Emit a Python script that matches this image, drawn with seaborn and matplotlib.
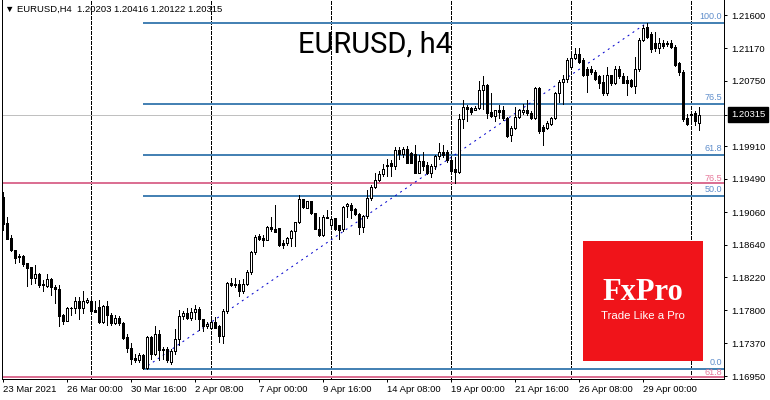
import numpy as np
import pandas as pd
import seaborn as sns
import matplotlib.pyplot as plt
from matplotlib.patches import Rectangle

# EURUSD H4 candles, bar 0 = 23 Mar 2021 08:00 ... bar 174 = 3 May 2021 08:00
opens = [
    1.1926, 1.1892, 1.1873, 1.1857, 1.1849, 1.1849, 1.1841, 1.1835, 1.1821, 1.1826,
    1.1813, 1.1811, 1.1820, 1.1810, 1.1807, 1.1774, 1.1766, 1.1782, 1.1782, 1.1792,
    1.1782, 1.1790, 1.1792, 1.1780, 1.1784, 1.1765, 1.1785, 1.1774, 1.1763, 1.1770,
    1.1763, 1.1745, 1.1731, 1.1718, 1.1716, 1.1722, 1.1705, 1.1745, 1.1724, 1.1749,
    1.1730, 1.1730, 1.1713, 1.1727, 1.1743, 1.1772, 1.1776, 1.1770, 1.1778, 1.1781,
    1.1768, 1.1759, 1.1757, 1.1765, 1.1759, 1.1746, 1.1779, 1.1815, 1.1814, 1.1813,
    1.1805, 1.1813, 1.1829, 1.1855, 1.1875, 1.1873, 1.1870, 1.1887, 1.1884, 1.1886,
    1.1866, 1.1866, 1.1873, 1.1882, 1.1893, 1.1923, 1.1912, 1.1920, 1.1905, 1.1885,
    1.1877, 1.1899, 1.1890, 1.1898, 1.1889, 1.1884, 1.1914, 1.1915, 1.1910, 1.1904,
    1.1887, 1.1901, 1.1924, 1.1938, 1.1947, 1.1955, 1.1965, 1.1969, 1.1965, 1.1986,
    1.1981, 1.1987, 1.1982, 1.1981, 1.1957, 1.1972, 1.1967, 1.1957, 1.1965, 1.1978,
    1.1984, 1.1984, 1.1973, 1.1962, 1.1958, 1.2026, 1.2041, 1.2040, 1.2038, 1.2040,
    1.2063, 1.2070, 1.2035, 1.2030, 1.2037, 1.2037, 1.2027, 1.2005, 1.2014, 1.2028,
    1.2035, 1.2038, 1.2034, 1.2027, 1.2066, 1.2016, 1.2015, 1.2020, 1.2027, 1.2059,
    1.2074, 1.2078, 1.2093, 1.2104, 1.2110, 1.2102, 1.2091, 1.2091, 1.2087, 1.2081,
    1.2074, 1.2059, 1.2083, 1.2072, 1.2091, 1.2081, 1.2076, 1.2076, 1.2069, 1.2091,
    1.2128, 1.2144, 1.2136, 1.2124, 1.2117, 1.2124, 1.2124, 1.2124, 1.2119, 1.2098,
    1.2087, 1.2027, 1.2031, 1.2034, 1.20203,
]
closes = [
    1.1891, 1.1872, 1.1857, 1.1847, 1.1848, 1.1839, 1.1834, 1.1821, 1.1826, 1.1812,
    1.1812, 1.1820, 1.1810, 1.1807, 1.1772, 1.1766, 1.1782, 1.1783, 1.1792, 1.1782,
    1.1791, 1.1793, 1.1779, 1.1778, 1.1765, 1.1785, 1.1774, 1.1763, 1.1770, 1.1763,
    1.1744, 1.1731, 1.1717, 1.1716, 1.1722, 1.1705, 1.1745, 1.1723, 1.1749, 1.1728,
    1.1728, 1.1716, 1.1727, 1.1743, 1.1772, 1.1776, 1.1770, 1.1778, 1.1781, 1.1768,
    1.1759, 1.1762, 1.1765, 1.1757, 1.1746, 1.1779, 1.1815, 1.1812, 1.1812, 1.1805,
    1.1813, 1.1829, 1.1855, 1.1874, 1.1872, 1.1870, 1.1887, 1.1884, 1.1881, 1.1864,
    1.1864, 1.1873, 1.1882, 1.1893, 1.1923, 1.1913, 1.1920, 1.1905, 1.1885, 1.1877,
    1.1900, 1.1900, 1.1897, 1.1885, 1.1883, 1.1913, 1.1917, 1.1909, 1.1904, 1.1887,
    1.1901, 1.1924, 1.1938, 1.1947, 1.1955, 1.1962, 1.1967, 1.1965, 1.1986, 1.1981,
    1.1987, 1.1970, 1.1970, 1.1957, 1.1972, 1.1965, 1.1956, 1.1965, 1.1978, 1.1984,
    1.1980, 1.1973, 1.1959, 1.1958, 1.2026, 1.2041, 1.2039, 1.2035, 1.2040, 1.2063,
    1.2070, 1.2034, 1.2030, 1.2037, 1.2035, 1.2027, 1.2004, 1.2015, 1.2029, 1.2037,
    1.2038, 1.2034, 1.2027, 1.2066, 1.2010, 1.2010, 1.2021, 1.2027, 1.2059, 1.2074,
    1.2078, 1.2102, 1.2104, 1.2110, 1.2100, 1.2083, 1.2083, 1.2086, 1.2078, 1.2073,
    1.2059, 1.2083, 1.2072, 1.2091, 1.2081, 1.2073, 1.2073, 1.2069, 1.2091, 1.2128,
    1.2143, 1.2132, 1.2116, 1.2117, 1.2124, 1.2120, 1.2123, 1.2119, 1.2096, 1.2087,
    1.2026, 1.2020, 1.2032, 1.2023, 1.20315,
]
highs = [
    1.1932, 1.1900, 1.1877, 1.1857, 1.1852, 1.1851, 1.1841, 1.1835, 1.1838, 1.1828,
    1.1819, 1.1827, 1.1821, 1.1812, 1.1812, 1.1775, 1.1784, 1.1784, 1.1797, 1.1797,
    1.1804, 1.1795, 1.1794, 1.1792, 1.1793, 1.1786, 1.1792, 1.1776, 1.1774, 1.1772,
    1.1765, 1.1749, 1.1737, 1.1724, 1.1725, 1.1724, 1.1746, 1.1746, 1.1759, 1.1754,
    1.1733, 1.1733, 1.1730, 1.1755, 1.1780, 1.1779, 1.1783, 1.1782, 1.1786, 1.1784,
    1.1769, 1.1764, 1.1771, 1.1771, 1.1761, 1.1781, 1.1816, 1.1821, 1.1821, 1.1819,
    1.1820, 1.1832, 1.1856, 1.1877, 1.1878, 1.1877, 1.1888, 1.1900, 1.1915, 1.1886,
    1.1870, 1.1874, 1.1883, 1.1894, 1.1928, 1.1923, 1.1921, 1.1920, 1.1905, 1.1900,
    1.1902, 1.1909, 1.1898, 1.1899, 1.1890, 1.1914, 1.1918, 1.1918, 1.1911, 1.1905,
    1.1902, 1.1935, 1.1941, 1.1957, 1.1959, 1.1968, 1.1975, 1.1973, 1.1990, 1.1990,
    1.1990, 1.1991, 1.1983, 1.1993, 1.1980, 1.1984, 1.1971, 1.1968, 1.1980, 1.1995,
    1.1993, 1.1986, 1.1977, 1.1977, 1.2033, 1.2050, 1.2044, 1.2042, 1.2043, 1.2075,
    1.2081, 1.2071, 1.2059, 1.2038, 1.2044, 1.2043, 1.2029, 1.2017, 1.2041, 1.2039,
    1.2045, 1.2050, 1.2036, 1.2067, 1.2067, 1.2018, 1.2023, 1.2029, 1.2061, 1.2076,
    1.2083, 1.2104, 1.2108, 1.2118, 1.2117, 1.2104, 1.2093, 1.2094, 1.2089, 1.2083,
    1.2083, 1.2093, 1.2083, 1.2094, 1.2094, 1.2085, 1.2081, 1.2078, 1.2106, 1.2130,
    1.2147, 1.2150, 1.2138, 1.2138, 1.2130, 1.2128, 1.2127, 1.2128, 1.2121, 1.2099,
    1.2089, 1.2033, 1.2034, 1.2036, 1.20416,
]
lows = [
    1.1883, 1.1871, 1.1856, 1.1841, 1.1842, 1.1837, 1.1811, 1.1814, 1.1815, 1.1810,
    1.1804, 1.1810, 1.1799, 1.1789, 1.1759, 1.1762, 1.1766, 1.1774, 1.1776, 1.1769,
    1.1776, 1.1789, 1.1776, 1.1777, 1.1763, 1.1763, 1.1761, 1.1761, 1.1762, 1.1761,
    1.1743, 1.1726, 1.1711, 1.1713, 1.1713, 1.1704, 1.1704, 1.1717, 1.1722, 1.1716,
    1.1717, 1.1713, 1.1711, 1.1724, 1.1735, 1.1768, 1.1768, 1.1767, 1.1769, 1.1754,
    1.1753, 1.1757, 1.1755, 1.1757, 1.1739, 1.1737, 1.1776, 1.1811, 1.1810, 1.1798,
    1.1802, 1.1812, 1.1827, 1.1852, 1.1870, 1.1863, 1.1870, 1.1882, 1.1880, 1.1862,
    1.1860, 1.1864, 1.1862, 1.1862, 1.1892, 1.1912, 1.1911, 1.1904, 1.1884, 1.1875,
    1.1875, 1.1898, 1.1887, 1.1883, 1.1871, 1.1882, 1.1900, 1.1899, 1.1902, 1.1878,
    1.1880, 1.1899, 1.1922, 1.1937, 1.1946, 1.1952, 1.1952, 1.1952, 1.1962, 1.1975,
    1.1977, 1.1969, 1.1969, 1.1956, 1.1956, 1.1960, 1.1955, 1.1951, 1.1962, 1.1974,
    1.1977, 1.1971, 1.1958, 1.1943, 1.1957, 1.2015, 1.2023, 1.2033, 1.2037, 1.2039,
    1.2039, 1.2027, 1.2028, 1.2023, 1.2027, 1.2025, 1.2003, 1.1998, 1.2013, 1.2027,
    1.2033, 1.2031, 1.2026, 1.2026, 1.2008, 1.1993, 1.2013, 1.2018, 1.2026, 1.2048,
    1.2046, 1.2074, 1.2090, 1.2103, 1.2098, 1.2081, 1.2061, 1.2084, 1.2076, 1.2066,
    1.2057, 1.2057, 1.2070, 1.2071, 1.2079, 1.2072, 1.2057, 1.2067, 1.2059, 1.2088,
    1.2126, 1.2130, 1.2112, 1.2114, 1.2111, 1.2117, 1.2120, 1.2117, 1.2094, 1.2083,
    1.2023, 1.2018, 1.2020, 1.2018, 1.20122,
]

# x axis labels (every 16 bars) and weekly separators (Monday 00:00)
date_label_bars = [0, 16, 32, 48, 64, 80, 96, 112, 128, 144, 160]
date_labels = ["23 Mar 2021", "26 Mar 00:00", "30 Mar 16:00", "2 Apr 08:00", "7 Apr 00:00",
               "9 Apr 16:00", "14 Apr 08:00", "19 Apr 00:00", "21 Apr 16:00", "26 Apr 08:00",
               "29 Apr 00:00"]
week_bars = [22, 52, 82, 112, 142, 172]

price_ticks = [1.21600, 1.21170, 1.20750, 1.19910, 1.19490, 1.19060,
               1.18640, 1.18220, 1.17800, 1.17370, 1.16950]
last_price = 1.20315

# blue fibonacci retracement: low 31 Mar -> high 29 Apr
fib_low, fib_high = 1.1704, 1.2150
fib_low_bar, fib_high_bar = 35, 161
fib_ratios = [0.0, 50.0, 61.8, 76.5, 100.0]
# older (red) fibonacci levels still on the chart
red_levels = [1.1944, 1.1694]
red_labels = ["76.5", "61.8"]

bars = pd.DataFrame({"open": opens, "high": highs, "low": lows, "close": closes})
bars["bar"] = np.arange(len(bars))
bars["up"] = bars["close"] >= bars["open"]

sns.set_theme(style="white")
plt.rcParams["font.family"] = ["Liberation Sans", "DejaVu Sans"]

BLUE = "#4682B4"
BLUE_TXT = "#5E8DCB"
RED = "#DB7093"
RED_TXT = "#E7789A"
PX = 0.72  # one pixel in points at dpi 100

fig = plt.figure(figsize=(7.7, 4.0), dpi=100)
fig.patch.set_facecolor("white")
ax = fig.add_axes([2 / 770, 21 / 400, 722 / 770, 379 / 400])
ax.set_facecolor("white")
ax.set_xlim(-0.25, 180.25)
ax.set_ylim(1.169117, 1.217932)

# weekly separators
for b in week_bars:
    ax.axvline(b, color="black", lw=PX, ls=(0, (3, 2)), zorder=1, antialiased=False)

# current price line
ax.axhline(last_price, color="#C0C0C0", lw=PX, zorder=1)

# red fib levels across the whole chart (bottom label is cut by the chart edge)
for lvl, lab in zip(red_levels, red_labels):
    ax.hlines(lvl, -0.25, 180.25, color=RED, lw=2 * PX, zorder=2)
    ax.annotate(lab, xy=(179.8, lvl), xytext=(0, 0), textcoords="offset points",
                ha="right", va="bottom", color=RED_TXT, fontsize=6.5, clip_on=True)

# blue fib levels
for r in fib_ratios:
    lvl = fib_low + r / 100 * (fib_high - fib_low)
    ax.hlines(lvl, fib_low_bar, 180.25, color=BLUE, lw=2 * PX, zorder=2)
    ax.annotate(f"{r:.1f}", xy=(179.8, lvl), xytext=(0, 1.5), textcoords="offset points",
                ha="right", va="bottom", color=BLUE_TXT, fontsize=6.5)

# fib trend line
sns.lineplot(x=[fib_low_bar, fib_high_bar], y=[fib_low, fib_high], ax=ax,
             color="#0000CD", lw=PX, linestyle=(0, (2, 4)), zorder=2)

# candles: 1px wick, 3px body with 1px outline
body_col = np.where(bars["up"], "white", "black")
ax.vlines(bars["bar"], bars["low"], bars["high"], color="black", lw=PX,
          zorder=3, antialiased=False)
ax.bar(bars["bar"], bars["close"] - bars["open"], bottom=bars["open"], width=0.5,
       color=body_col, edgecolor="black", linewidth=PX, zorder=4, antialiased=False)

# axes cosmetics (MT4 look)
for s in ["left", "right", "bottom"]:
    ax.spines[s].set_visible(True)
    ax.spines[s].set_color("black")
    ax.spines[s].set_linewidth(PX)
ax.spines["top"].set_visible(False)

ax.yaxis.tick_right()
ax.set_yticks(price_ticks + [last_price])
ax.set_yticklabels([f"{p:.5f}" for p in price_ticks] + [""])
ax.tick_params(axis="y", which="both", right=True, left=False, direction="out",
               length=2.5, width=PX, pad=2.5, labelsize=6.8, colors="black")

ax.set_xticks(date_label_bars)
ax.set_xticklabels(date_labels)
ax.tick_params(axis="x", which="both", bottom=True, direction="out",
               length=2.5, width=PX, pad=1.5, labelsize=6.8, colors="black")
for lbl in ax.get_xticklabels():
    lbl.set_horizontalalignment("left")
ax.grid(False)

# last price box on the scale
ax.annotate(f"{last_price:.5f}", xy=(1, last_price), xycoords=("axes fraction", "data"),
            xytext=(5, 0), textcoords="offset points", ha="left", va="center",
            color="white", fontsize=6.8,
            bbox=dict(boxstyle="square,pad=0.3", fc="black", ec="black"))

# header and watermark title
fig.text(5 / 770, 1 - 9 / 400, "\u25BC EURUSD,H4  1.20203 1.20416 1.20122 1.20315",
         fontsize=6.8, va="center", ha="left", color="black")
fig.text(298 / 770, 1 - 45 / 400, "EURUSD, h4", family=["Roboto", "DejaVu Sans"],
         fontsize=21, va="center", ha="left", color="black")

# FxPro logo
fig.add_artist(Rectangle((583 / 770, 39 / 400), 120 / 770, 120 / 400,
                         transform=fig.transFigure, facecolor="#F0141A",
                         edgecolor="none", zorder=10))
fig.text(643 / 770, 1 - 292 / 400, "FxPro", family=["Liberation Serif", "DejaVu Serif"],
         fontweight="bold", fontsize=22, color="white", ha="center", va="center", zorder=11)
fig.text(643 / 770, 1 - 316 / 400, "Trade Like a Pro", fontsize=8.2, color="white",
         ha="center", va="center", zorder=11)

fig.savefig("out.png", dpi=100, facecolor="white")
